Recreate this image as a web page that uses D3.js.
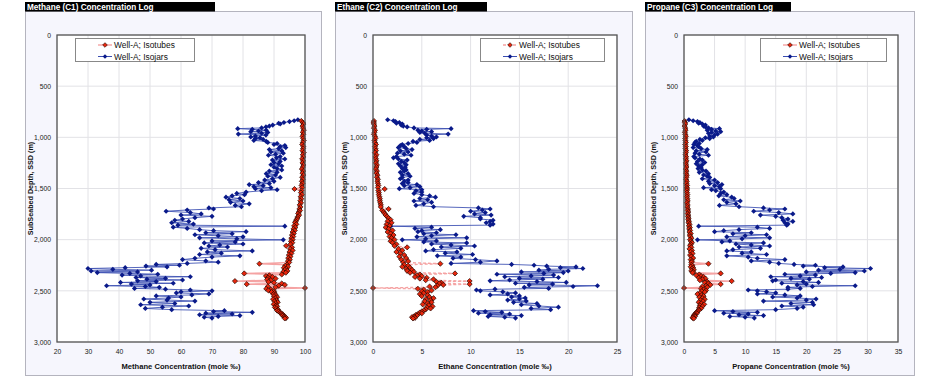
<!DOCTYPE html>
<html><head><meta charset="utf-8">
<script src="https://cdn.jsdelivr.net/npm/d3@7"></script>
<style>
html,body{margin:0;padding:0;background:#fff;}
svg{display:block;font-family:"Liberation Sans",Arial,sans-serif;}
</style></head>
<body><svg id="c" width="940" height="380"></svg>
<script>
// ---------- DATA ----------
const seriesNames = ["Well-A; Isotubes", "Well-A; Isojars"];
const panelTitles = ["Methane (C1) Concentration  Log", "Ethane (C2) Concentration Log", "Propane (C3) Concentration Log"];
const xLabels = ["Methane Concentration (mole \u2030)", "Ethane Concentration (mole \u2030)", "Propane Concentration (mole %)"];
const yLabel = "SubSeabed Depth, SSD (m)";
const depthTicks = [0, 500, 1000, 1500, 2000, 2500, 3000];
const c1Ticks = [20, 30, 40, 50, 60, 70, 80, 90, 100];
const c2Ticks = [0, 5, 10, 15, 20, 25];
const c3Ticks = [0, 5, 10, 15, 20, 25, 30, 35];

// Isojars (blue)
const jarDepth = [
828,838,846,855,862,870,880,890,898,908,
915,922,930,938,945,952,960,968,978,988,
996,1004,1012,1020,1030,1040,1050,1060,1070,1080,
1090,1100,1110,1120,1132,1143,1155,1165,1175,1188,
1200,1212,1222,1235,1246,1258,1268,1280,1292,1305,
1318,1330,1342,1355,1368,1380,1392,1405,1418,1430,
1442,1452,1462,1472,1482,1492,1502,1512,1522,1535,
1548,1560,1572,1585,1598,1610,1622,1635,1650,1665,
1678,1690,1700,1710,1722,1735,1748,1760,1772,1785,
1798,1810,1822,1835,1848,1858,1868,1878,1890,1902,
1912,1922,1932,1942,1952,1962,1972,1982,1992,2002,
2012,2022,2032,2042,2052,2062,2072,2085,2098,2110,
2120,2132,2145,2158,2170,2182,2195,2208,2220,2232,
2242,2250,2258,2266,2274,2282,2290,2298,2306,2315,
2322,2330,2338,2346,2354,2362,2370,2378,2386,2394,
2402,2410,2418,2426,2434,2442,2450,2458,2466,2476,
2484,2492,2500,2510,2520,2530,2540,2550,2560,2570,
2580,2590,2600,2612,2624,2636,2648,2660,2672,2684,
2694,2702,2710,2718,2726,2734,2742,2750,2758,2766];
const jarC1 = [
97.7,96.5,95.0,93.2,91.5,92.0,89.6,88.5,87.4,86.0,
78.3,83.0,87.5,85.0,82.5,88.0,86.0,78.5,87.4,84.0,
82.5,85.5,84.0,86.5,83.5,87.5,88.0,91.0,90.0,93.5,
92.0,93.8,91.5,88.5,92.5,89.0,93.0,90.5,88.2,92.0,
90.8,93.5,89.5,92.0,90.0,91.5,89.0,92.5,90.0,91.0,
92.5,88.5,91.0,87.5,90.5,88.0,92.0,89.5,87.0,90.0,
85.0,88.5,82.0,86.5,83.5,89.0,84.0,91.0,86.0,81.0,
78.0,80.5,76.5,74.5,79.0,75.5,80.0,76.0,82.0,77.5,
79.5,69.0,70.5,62.0,55.2,63.0,66.5,60.0,70.0,64.5,
60.5,58.0,62.5,57.0,64.0,59.0,93.5,57.5,62.0,66.0,
70.5,81.0,68.0,76.5,64.5,72.0,80.0,66.0,78.0,93.0,
70.0,77.5,67.5,80.0,72.5,69.0,75.0,66.5,71.0,83.0,
68.5,73.0,66.0,79.0,70.0,64.5,60.5,68.0,72.0,62.0,
52.0,59.5,48.7,55.5,42.0,30.0,38.0,50.5,31.0,46.0,
33.0,43.5,52.5,41.0,47.0,63.0,45.5,55.0,49.0,60.5,
46.0,52.0,40.5,57.5,44.0,50.0,36.0,48.5,53.0,45.0,
55.0,63.0,70.0,60.0,58.5,69.0,63.5,52.0,60.0,56.0,
48.0,55.5,64.5,50.0,58.0,47.0,62.5,54.0,48.5,57.0,
74.0,70.5,83.0,68.0,76.5,66.0,79.0,72.0,67.5,70.0];
const jarC2 = [
1.5,2.1,2.3,2.7,2.4,3.0,2.9,3.1,3.5,4.2,
8.0,5.5,4.6,5.0,6.0,4.8,5.3,7.7,5.5,6.0,
6.5,5.5,6.2,4.8,5.8,4.1,4.5,3.6,3.0,2.8,
3.2,2.6,3.4,4.0,2.8,3.6,2.5,3.2,3.9,2.4,
2.1,2.6,3.5,2.9,3.2,2.6,3.4,2.8,3.3,3.0,
3.4,3.2,2.8,3.6,3.0,3.8,3.0,2.8,3.6,3.2,
3.6,3.0,4.5,3.2,4.8,3.8,2.7,5.0,4.4,5.0,
4.2,5.0,5.8,6.4,4.8,5.6,4.2,6.0,5.2,4.4,
6.2,10.8,12.0,11.2,10.0,11.5,10.4,12.1,9.3,11.0,
11.0,12.3,12.0,11.6,12.3,12.0,1.8,6.0,4.3,6.9,
5.0,4.6,6.5,5.2,8.5,6.0,4.5,9.6,5.4,3.0,
6.5,5.2,9.6,6.0,8.0,10.4,7.0,9.0,6.2,5.4,
8.6,7.4,10.2,6.6,9.0,8.2,10.5,12.7,11.0,8.0,
14.2,16.5,17.8,20.8,19.2,21.5,18.0,17.0,20.0,15.2,
19.5,17.5,12.7,18.5,16.2,13.5,19.0,15.0,17.4,14.0,
12.0,16.8,19.8,14.6,18.4,16.0,23.0,20.5,15.5,18.0,
12.5,10.6,11.0,13.3,14.6,13.8,12.0,15.0,14.2,15.6,
15.0,13.8,15.7,14.4,16.8,15.2,17.0,19.0,16.2,18.2,
10.3,11.5,13.2,10.8,14.0,12.0,15.2,11.8,13.5,14.6];
const jarC3 = [
0.8,1.5,2.2,2.6,2.4,3.0,3.5,3.2,3.5,4.0,
5.8,4.5,3.8,5.2,6.0,4.5,4.0,5.5,5.0,4.2,
4.8,3.5,4.2,2.6,3.0,2.0,1.8,2.5,1.6,2.2,
2.4,1.5,2.8,3.8,2.0,3.6,1.8,2.5,4.0,1.6,
1.8,2.6,3.0,2.2,3.4,2.0,3.0,2.4,2.8,2.3,
3.0,3.6,2.5,4.0,3.2,3.8,4.2,3.0,5.0,4.0,
5.5,4.2,6.2,5.0,5.8,3.2,6.0,4.5,5.2,6.5,
6.0,7.0,5.7,7.8,8.2,6.5,9.2,7.0,8.5,5.8,
9.0,13.0,16.5,14.0,11.4,15.5,17.8,12.5,15.0,16.0,
17.0,16.2,17.8,16.5,17.0,16.8,2.4,12.0,14.0,9.0,
6.5,5.0,11.0,8.0,13.5,10.0,7.0,14.0,9.5,2.2,
7.5,6.2,13.0,8.5,11.0,14.0,9.0,12.5,8.0,7.0,
11.0,9.5,13.5,7.0,10.5,12.0,16.5,11.0,14.0,15.5,
18.0,21.5,19.5,26.0,23.0,30.5,25.5,22.0,29.5,20.0,
28.0,24.0,16.5,21.5,19.0,14.2,22.5,17.5,20.5,15.0,
14.5,19.5,22.0,16.0,20.0,18.5,28.0,21.0,17.0,19.0,
17.0,10.5,12.0,13.5,15.0,12.0,16.5,19.0,14.5,18.5,
21.6,20.0,13.0,21.0,17.5,21.2,16.0,19.5,18.5,15.0,
5.0,8.0,12.0,6.5,10.5,9.0,13.0,7.5,10.0,11.5];

// Isotubes (red)
const tubeDepth = [
840,855,870,890,910,930,950,970,990,1010,1030,1050,1070,1090,1110,1130,1150,1170,1190,1210,1230,1250,1270,1290,1310,1330,1350,1370,1390,1410,1430,1450,1470,1490,
1505,1520,1540,1560,1580,1600,1620,1640,1660,1680,1700,1715,1730,1745,1760,1775,1790,
1805,1820,1835,1850,1865,1880,1895,1910,1925,1940,1955,1970,1985,2000,2015,2030,2045,
2060,2075,2090,2105,2120,2135,2150,2165,2180,2195,2210,2222,
2235,2245,2255,2265,2275,2285,2295,2305,2315,2323,
2330,2340,2348,2356,2364,2372,2380,2388,2396,2405,2412,2420,2428,2435,2442,2450,2458,2465,2472,2480,2488,2496,2504,2512,
2522,2532,2542,2552,2562,2572,2582,2592,2602,2612,2622,2632,2642,2652,2662,2672,2682,
2692,2702,2712,2720,2728,2735,2742,2750,2757,2764,2770];
const tubeC1 = [
98.8,99.3,99.5,99.2,99.4,99.6,99.3,99.5,99.2,99.4,99.6,99.3,99.1,99.5,99.4,99.2,99.6,99.3,99.5,99.1,99.4,99.2,99.5,99.3,99.0,99.4,99.2,99.5,99.1,99.3,99.0,99.2,98.9,99.1,
96.6,98.9,98.7,99.0,98.6,98.8,98.5,98.7,98.3,98.5,98.2,98.4,98.0,97.8,98.1,97.7,97.5,
97.3,97.0,96.8,97.2,96.5,96.9,96.3,96.7,96.0,96.4,95.8,96.2,95.6,96.0,95.5,95.9,95.3,
93.9,95.8,95.2,96.0,95.0,95.6,94.8,95.3,94.6,95.1,94.5,94.9,
85.3,94.2,93.6,94.5,93.2,94.0,93.5,94.3,93.0,93.8,
80.4,92.5,88.5,87.4,89.5,88.0,90.5,87.8,89.0,77.4,88.2,90.0,92.5,81.2,93.5,91.5,88.0,90.5,100.0,87.5,89.0,88.2,90.0,89.2,
90.2,89.8,90.6,90.0,91.0,90.4,89.7,90.8,90.2,91.2,90.5,89.9,90.7,91.0,90.3,90.8,91.3,
91.0,91.5,92.0,92.3,92.6,93.0,92.8,93.3,93.6,93.9,93.5];
const tubeC2 = [
0.1,0.05,0.1,0.15,0.1,0.2,0.15,0.1,0.2,0.25,0.15,0.2,0.3,0.2,0.25,0.3,0.2,0.35,0.25,0.3,0.35,0.3,0.4,0.35,0.3,0.4,0.35,0.45,0.4,0.5,0.45,0.5,0.55,0.5,
1.2,0.55,0.6,0.6,0.65,0.7,0.7,0.75,0.8,0.8,1.6,0.95,1.1,1.2,1.3,1.45,1.6,
1.8,1.5,1.9,1.4,1.7,1.3,1.6,2.0,1.5,1.8,2.1,1.7,1.9,2.2,1.8,2.0,2.4,
2.2,3.5,2.6,3.0,2.4,2.8,3.2,2.7,3.4,2.9,3.6,3.1,
6.9,3.2,3.6,3.0,3.8,3.4,4.0,3.5,4.2,3.8,
8.4,4.8,4.5,5.0,4.3,5.5,4.8,6.2,5.4,9.9,6.5,7.0,6.8,9.9,7.2,6.6,5.8,6.4,0.0,4.6,5.2,6.0,5.0,5.6,
5.2,4.8,5.6,5.0,5.8,6.2,5.4,5.9,5.3,6.0,5.6,5.1,5.7,6.1,5.5,5.9,5.4,
5.2,5.0,4.8,5.0,4.6,4.4,4.5,4.2,4.0,4.3,4.1];
const tubeC3 = [
0.1,0.15,0.2,0.1,0.2,0.25,0.15,0.2,0.3,0.2,0.25,0.3,0.2,0.3,0.25,0.35,0.3,0.25,0.35,0.3,0.4,0.3,0.35,0.4,0.3,0.4,0.35,0.45,0.4,0.35,0.45,0.4,0.5,0.45,
0.5,0.45,0.5,0.55,0.5,0.55,0.6,0.5,0.6,0.55,0.65,0.6,0.7,0.6,0.7,0.65,0.75,
0.7,0.8,0.75,0.9,0.8,0.95,0.85,1.0,0.9,1.1,0.95,1.05,1.2,1.0,1.15,1.3,1.1,
1.0,1.2,0.9,1.3,1.1,1.4,1.0,1.2,1.5,1.1,1.3,1.2,
4.0,1.2,1.4,1.1,1.5,1.3,1.6,1.2,1.5,1.4,
6.0,2.5,2.0,2.8,3.2,2.4,3.5,3.0,2.6,7.8,3.8,3.4,4.0,6.0,4.3,3.6,3.0,3.8,0.0,2.8,3.2,3.6,2.9,3.4,
2.6,2.2,2.9,3.2,2.5,3.0,3.4,2.7,3.1,2.4,2.8,3.3,2.6,3.0,2.5,2.8,2.4,
2.4,2.2,2.0,2.1,1.8,1.7,1.6,1.8,1.5,1.4,1.6];

// ---------- LAYOUT ----------
const panels = [
  {px0:25, px1:321, tx1:215, L:57,  R:305, dom:[20,100], ticks:c1Ticks, jar:jarC1, tube:tubeC1, yLabX:33,  leg:[75,194],  dash:null},
  {px0:335,px1:632, tx1:487, L:373, R:617, dom:[0,25],   ticks:c2Ticks, jar:jarC2, tube:tubeC2, yLabX:347, leg:[480,604], dash:"3,2"},
  {px0:645,px1:914, tx1:791, L:684, R:898, dom:[0,35],   ticks:c3Ticks, jar:jarC3, tube:tubeC3, yLabX:656, leg:[760,886], dash:null}
];
const T = 35, B = 342;
const svg = d3.select("#c");
const blueLine = "#3a4db2", blueMark = "#0a1a8a";
const redLine = "#f5a3a3", redMark = "#e8260c";
const diamond = d3.symbol().type(d3.symbolDiamond2);

panels.forEach((p, i) => {
  const g = svg.append("g");
  // panel background
  g.append("rect").attr("x", p.px0 + 0.5).attr("y", 11.5).attr("width", p.px1 - p.px0).attr("height", 364)
    .attr("fill", "#f6f6fd").attr("stroke", "#b4b4be").attr("stroke-width", 1);
  // title bar
  g.append("rect").attr("x", p.px0).attr("y", 2).attr("width", p.tx1 - p.px0).attr("height", 9.5).attr("fill", "#000");
  g.append("text").attr("x", p.px0 + 2).attr("y", 9.6).attr("fill", "#fff")
    .attr("font-size", 8.2).attr("font-weight", "bold").text(panelTitles[i]);

  const x = d3.scaleLinear().domain(p.dom).range([p.L, p.R]);
  const y = d3.scaleLinear().domain([0, 3000]).range([T, B]);

  g.append("rect").attr("x", p.L).attr("y", T).attr("width", p.R - p.L).attr("height", B - T).attr("fill", "#fff");
  // gridlines
  g.append("g").selectAll("line").data(p.ticks).join("line")
    .attr("x1", d => x(d)).attr("x2", d => x(d)).attr("y1", T).attr("y2", B)
    .attr("stroke", "#e2e2e6").attr("stroke-width", 1);
  g.append("g").selectAll("line").data(depthTicks).join("line")
    .attr("x1", p.L).attr("x2", p.R).attr("y1", d => y(d)).attr("y2", d => y(d))
    .attr("stroke", "#e2e2e6").attr("stroke-width", 1);

  // axes
  const ya = g.append("g").attr("transform", `translate(${p.L},0)`)
    .call(d3.axisLeft(y).tickValues(depthTicks).tickFormat(d3.format(",")).tickSize(0).tickPadding(6));
  ya.select(".domain").remove();
  ya.selectAll("text").attr("font-size", 6.8).attr("fill", "#222").attr("font-family", "Liberation Sans, Arial, sans-serif");
  const xa = g.append("g").attr("transform", `translate(0,${B})`)
    .call(d3.axisBottom(x).tickValues(p.ticks).tickFormat(d3.format("d")).tickSize(0).tickPadding(7));
  xa.select(".domain").remove();
  xa.selectAll("text").attr("font-size", 6.8).attr("fill", "#222").attr("font-family", "Liberation Sans, Arial, sans-serif");

  // axis titles
  g.append("text").attr("x", (p.L + p.R) / 2).attr("y", 369).attr("text-anchor", "middle")
    .attr("font-size", 7.6).attr("font-weight", "bold").attr("fill", "#111").text(xLabels[i]);
  g.append("text").attr("transform", `translate(${p.yLabX},${(T + B) / 2}) rotate(-90)`).attr("text-anchor", "middle")
    .attr("font-size", 7.2).attr("font-weight", "bold").attr("fill", "#111").text(yLabel);

  const marks = g.append("g");
  // tubes (red) line
  const tubePts = tubeDepth.map((d, k) => [p.tube[k], d]);
  marks.append("path").datum(tubePts)
    .attr("d", d3.line().x(d => x(d[0])).y(d => y(d[1])))
    .attr("fill", "none").attr("stroke", redLine).attr("stroke-width", 1.4)
    .attr("stroke-dasharray", p.dash);
  // jars (blue)
  const jarPts = jarDepth.map((d, k) => [p.jar[k], d]);
  marks.append("path").datum(jarPts)
    .attr("d", d3.line().x(d => x(d[0])).y(d => y(d[1])))
    .attr("fill", "none").attr("stroke", blueLine).attr("stroke-width", 1).attr("stroke-opacity", 0.85);
  marks.append("g").selectAll("path").data(jarPts).join("path")
    .attr("transform", d => `translate(${x(d[0])},${y(d[1])})`)
    .attr("d", diamond.size(17)()).attr("fill", blueMark);
  marks.append("g").selectAll("path").data(tubePts).join("path")
    .attr("transform", d => `translate(${x(d[0])},${y(d[1])})`)
    .attr("d", diamond.size(17)()).attr("fill", redMark).attr("stroke", "#1e0600").attr("stroke-width", 0.7);

  // plot border
  g.append("rect").attr("x", p.L).attr("y", T).attr("width", p.R - p.L).attr("height", B - T)
    .attr("fill", "none").attr("stroke", "#555").attr("stroke-width", 1.3);

  // legend
  const lx0 = p.leg[0], lx1 = p.leg[1];
  const lg = g.append("g");
  lg.append("rect").attr("x", lx0 + 0.5).attr("y", 38.5).attr("width", lx1 - lx0).attr("height", 23)
    .attr("fill", "#fff").attr("stroke", "#888").attr("stroke-width", 1);
  const rows = [{c: redLine, m: redMark, y: 45, dash: p.dash, stroke: "#1e0600"}, {c: blueLine, m: blueMark, y: 56.5, dash: null, stroke: null}];
  rows.forEach((r, k) => {
    lg.append("line").attr("x1", lx0 + 23).attr("x2", lx0 + 37).attr("y1", r.y).attr("y2", r.y)
      .attr("stroke", r.c).attr("stroke-width", k === 0 ? 1.4 : 1).attr("stroke-dasharray", r.dash);
    lg.append("path").attr("transform", `translate(${lx0 + 30},${r.y})`).attr("d", diamond.size(14)())
      .attr("fill", r.m).attr("stroke", r.stroke).attr("stroke-width", 0.6);
    lg.append("text").attr("x", lx0 + 39).attr("y", r.y + 3).attr("font-size", 8.4).attr("fill", "#111").text(seriesNames[k]);
  });
});
</script>
</body></html>
